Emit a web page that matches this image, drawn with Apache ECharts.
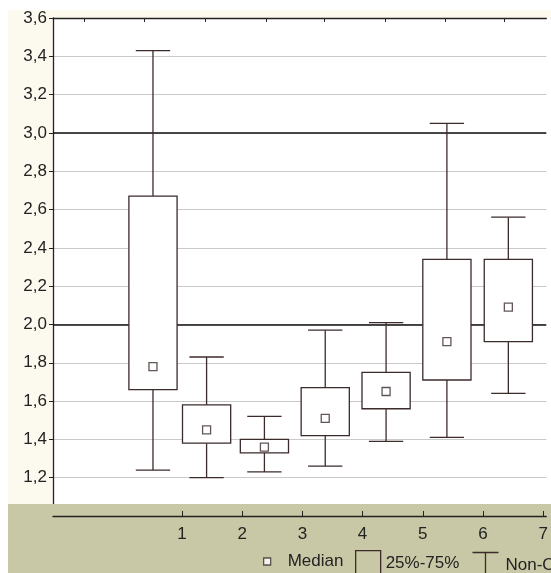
<!DOCTYPE html>
<html>
<head>
<meta charset="utf-8">
<script src="https://cdn.jsdelivr.net/npm/echarts@6/dist/echarts.min.js"></script>
<style>
  html, body { margin: 0; padding: 0; background: #fff; }
  #main { width: 551px; height: 573px; }
</style>
</head>
<body>
<div id="main"></div>
<script>
// box positions on the x scale and the five statistics of each group
let boxX = [0.52, 1.41, 2.37, 3.38, 4.39, 5.40, 6.42];
let whiskerMin = [1.24, 1.20, 1.23, 1.26, 1.39, 1.41, 1.64];
let q1 = [1.66, 1.38, 1.33, 1.42, 1.56, 1.71, 1.91];
let medians = [1.78, 1.45, 1.36, 1.51, 1.65, 1.91, 2.09];
let q3 = [2.67, 1.58, 1.40, 1.67, 1.75, 2.34, 2.34];
let whiskerMax = [3.43, 1.83, 1.52, 1.97, 2.01, 3.05, 2.56];
let xTickLabels = [1, 2, 3, 4, 5, 6, 7];
let topTicks = [-0.62, 0.38, 1.39, 2.40, 3.37, 4.37, 5.38, 6.36];
let refLines = [2.0, 3.0];

const LINE = "#3b2b2b";
const KHAKI = "#c9c8a6";
const CREAM = "#fcf9ee";

let chart = echarts.init(document.getElementById("main"), null, { renderer: "canvas" });

let whiskerData = boxX.map((x, i) => [x, whiskerMin[i], q1[i], q3[i], whiskerMax[i]]);
let boxData = boxX.map((x, i) => [x, q1[i], q3[i]]);
let medianData = boxX.map((x, i) => [x, medians[i]]);

function renderWhisker(params, api) {
  let x = api.value(0);
  let half = 0.285;
  let pMin = api.coord([x, api.value(1)]);
  let pQ1 = api.coord([x, api.value(2)]);
  let pQ3 = api.coord([x, api.value(3)]);
  let pMax = api.coord([x, api.value(4)]);
  let l = api.coord([x - half, 0])[0];
  let r = api.coord([x + half, 0])[0];
  let style = { stroke: LINE, lineWidth: 1.3 };
  return {
    type: "group",
    children: [
      { type: "line", shape: { x1: l, y1: pMax[1], x2: r, y2: pMax[1] }, style: style },
      { type: "line", shape: { x1: pMax[0], y1: pMax[1], x2: pQ3[0], y2: pQ3[1] }, style: style },
      { type: "line", shape: { x1: pQ1[0], y1: pQ1[1], x2: pMin[0], y2: pMin[1] }, style: style },
      { type: "line", shape: { x1: l, y1: pMin[1], x2: r, y2: pMin[1] }, style: style },
    ],
  };
}

function renderBox(params, api) {
  let x = api.value(0);
  let half = 0.4;
  let a = api.coord([x - half, api.value(2)]);
  let b = api.coord([x + half, api.value(1)]);
  return {
    type: "rect",
    shape: { x: a[0], y: a[1], width: b[0] - a[0], height: b[1] - a[1] },
    style: { fill: "#fff", stroke: LINE, lineWidth: 1.3 },
  };
}

let option = {
  backgroundColor: "#fff",
  animation: false,
  textStyle: { fontFamily: "Liberation Sans, Arial, sans-serif" },
  grid: { left: 53, right: 0, top: 18, bottom: 57 },
  graphic: [
    { type: "rect", z: 0, shape: { x: 8, y: 10, width: 45, height: 494 }, style: { fill: CREAM } },
    { type: "rect", z: 0, shape: { x: 53, y: 10, width: 498, height: 8 }, style: { fill: CREAM } },
    { type: "rect", z: 100, shape: { x: 8, y: 504, width: 543, height: 69 }, style: { fill: KHAKI } },
  ],
  legend: [
    {
      data: [{ name: "Median", icon: "rect", itemStyle: { color: "#fff", borderColor: LINE, borderWidth: 1.3 } }],
      left: 258, top: 548, itemWidth: 7, itemHeight: 7, z: 120,
      textStyle: { fontSize: 17, color: "#222", padding: [0, 0, 0, 12] },
    },
    {
      data: [{ name: "25%-75%", icon: "rect", itemStyle: { color: KHAKI, borderColor: LINE, borderWidth: 1.3 } }],
      left: 350, top: 545, itemWidth: 25, itemHeight: 26, z: 120,
      textStyle: { fontSize: 17, color: "#222" },
    },
    {
      data: [{ name: "Non-Outlier Range", icon: "path://M0,0 L26,0 M13,0 L13,26", itemStyle: { color: "none", borderColor: LINE, borderWidth: 1.3 } }],
      left: 465, top: 545, itemWidth: 26, itemHeight: 26, z: 120,
      textStyle: { fontSize: 17, color: "#222", padding: [0, 0, 0, 2] },
    },
  ],
  xAxis: [
    {
      type: "value",
      position: "bottom",
      min: -1.14,
      max: 7.05,
      z: 110,
      axisLine: { show: true, onZero: false, lineStyle: { color: "#222", width: 1.3 } },
      axisTick: { show: true, inside: true, length: 5, customValues: xTickLabels, lineStyle: { color: "#222" } },
      axisLabel: { show: true, customValues: xTickLabels, margin: 10, fontSize: 17, color: "#222" },
      splitLine: { show: false },
    },
    {
      type: "value",
      position: "top",
      min: -1.14,
      max: 7.05,
      axisLine: { show: true, onZero: false, lineStyle: { color: "#222", width: 1.3 } },
      axisTick: { show: true, inside: true, length: 4, customValues: topTicks, lineStyle: { color: "#222" } },
      axisLabel: { show: false },
      splitLine: { show: false },
    },
  ],
  yAxis: {
    type: "value",
    min: 1.0,
    max: 3.6,
    interval: 0.2,
    axisLine: { show: true, onZero: false, lineStyle: { color: "#222", width: 1.3 } },
    axisTick: { show: true, length: 4, lineStyle: { color: "#222" } },
    axisLabel: {
      margin: 6,
      fontSize: 17,
      color: "#222",
      formatter: function (v) {
        if (v < 1.1) return "";
        return v.toFixed(1).replace(".", ",");
      },
    },
    splitLine: { show: true, lineStyle: { color: "#c9c9c9", width: 1.2 } },
  },
  series: [
    {
      name: "Non-Outlier Range",
      type: "custom",
      renderItem: renderWhisker,
      data: whiskerData,
      encode: { x: 0, y: [1, 2, 3, 4] },
      z: 3,
      markLine: {
        silent: true,
        symbol: "none",
        label: { show: false },
        lineStyle: { color: "#111", width: 1.6, type: "solid" },
        data: refLines.map((v) => ({ yAxis: v })),
        z: 2,
      },
    },
    {
      name: "25%-75%",
      type: "custom",
      renderItem: renderBox,
      data: boxData,
      encode: { x: 0, y: [1, 2] },
      z: 4,
    },
    {
      name: "Median",
      type: "scatter",
      data: medianData,
      symbol: "rect",
      symbolSize: 8,
      itemStyle: { color: "#fff", borderColor: LINE, borderWidth: 1.3 },
      z: 5,
    },
  ],
};

chart.setOption(option);
</script>
</body>
</html>
